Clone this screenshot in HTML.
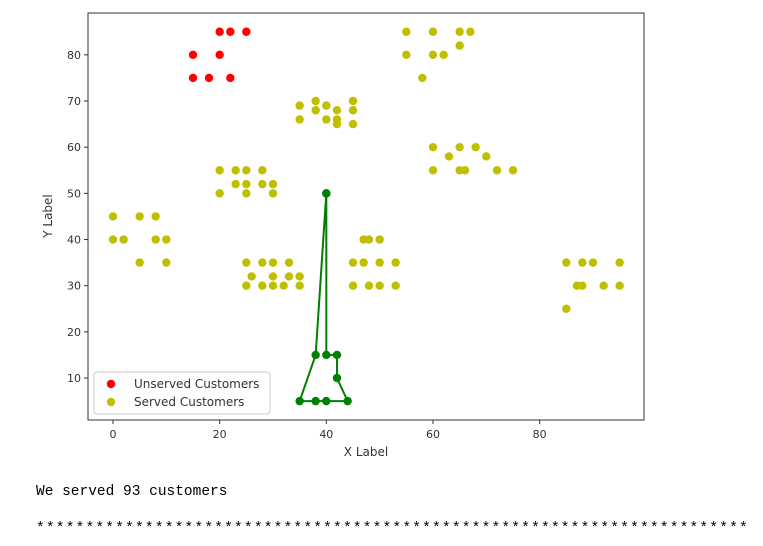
<!DOCTYPE html>
<html><head><meta charset="utf-8"><style>
body{margin:0;background:#fff;width:763px;height:546px;overflow:hidden;font-family:"DejaVu Sans","Liberation Sans",sans-serif}
#out{position:absolute;left:36px;top:484px;font-family:"Liberation Mono",monospace;font-size:14.5px;color:#000}
#stars{position:absolute;left:36px;top:521px;font-family:"Liberation Mono",monospace;font-size:14.5px;letter-spacing:1.2px;color:#000;white-space:nowrap;width:715px;overflow:hidden}
</style></head><body>
<svg id="chart" width="763" height="470" style="position:absolute;left:0;top:0"></svg>
<div id="out">We served 93 customers</div>
<div id="stars">************************************************************************</div>
<script>
const unservedX=[20,22,25,15,20,15,18,22];
const unservedY=[85,85,85,80,80,75,75,75];
const servedX=[35,35,38,38,40,40,42,42,42,45,45,45,20,23,25,28,23,25,28,30,20,25,30,55,60,65,67,65,55,60,62,58,60,65,68,63,70,60,65,66,72,75,0,5,8,0,2,8,10,5,10,25,28,30,33,26,30,33,35,25,28,30,32,35,47,48,50,45,47,50,53,45,48,50,53,85,88,90,95,87,88,92,95,85];
const servedY=[69,66,70,68,69,66,68,65,66,70,68,65,55,55,55,55,52,52,52,52,50,50,50,85,85,85,85,82,80,80,80,75,60,60,60,58,58,55,55,55,55,55,45,45,45,40,40,40,40,35,35,35,35,35,35,32,32,32,32,30,30,30,30,30,40,40,40,35,35,35,35,30,30,30,30,35,35,35,35,30,30,30,30,25];
const routeX=[40,40,42,42,44,40,38,35,38,40];
const routeY=[50,15,15,10,5,5,5,5,15,50];
const xTicks=[0,20,40,60,80];
const yTicks=[10,20,30,40,50,60,70,80];
const NS='http://www.w3.org/2000/svg';
const svg=document.getElementById('chart');
const L=88,R=644,T=13,B=420;
const sx=v=>113+v*5.333;
const sy=v=>424.2-v*4.617;
function mk(t,a){const e=document.createElementNS(NS,t);for(const k in a)e.setAttribute(k,a[k]);svg.appendChild(e);return e;}
const frame=mk('rect',{x:L,y:T,width:R-L,height:B-T,fill:'#fff',stroke:'#333','stroke-width':1});


xTicks.forEach(v=>{
  const l=mk('line',{x1:sx(v),x2:sx(v),y1:B,y2:B+4,stroke:'#333'});
  
  
  const t=mk('text',{x:sx(v),y:B+18,'text-anchor':'middle','font-size':11,fill:'#333'});t.textContent=v;
  
  
});
yTicks.forEach(v=>{
  const l=mk('line',{x1:L-4,x2:L,y1:sy(v),y2:sy(v),stroke:'#333'});
  
  
  const t=mk('text',{x:L-7,y:sy(v)+4,'text-anchor':'end','font-size':11,fill:'#333'});t.textContent=v;
  
  
});
const xl=mk('text',{x:366,y:456,'text-anchor':'middle','font-size':12,fill:'#333'});xl.textContent='X Label';


const yl=mk('text',{x:52,y:216,'text-anchor':'middle','font-size':12,fill:'#333',transform:'rotate(-90 52 216)'});yl.textContent='Y Label';


unservedX.forEach((x,i)=>{
  const c=mk('circle',{cx:sx(x),cy:sy(unservedY[i]),r:4.2,fill:'#ff0000'});
  
  
});
servedX.forEach((x,i)=>{
  const c=mk('circle',{cx:sx(x),cy:sy(servedY[i]),r:4.2,fill:'#bfbf00'});
  
  
});
const pl=mk('polyline',{points:routeX.map((x,i)=>sx(x)+','+sy(routeY[i])).join(' '),fill:'none',stroke:'#008000','stroke-width':2});


routeX.forEach((x,i)=>{
  const c=mk('circle',{cx:sx(x),cy:sy(routeY[i]),r:4.2,fill:'#008000'});
  
  
});
const lg=mk('rect',{x:94,y:372,width:176,height:42,rx:3,fill:'#fff',stroke:'#ccc'});


[['#ff0000','Unserved Customers',384],['#bfbf00','Served Customers',402]].forEach(([c,s,y])=>{
  const d=mk('circle',{cx:111,cy:y,r:4.2,fill:c});
  
  
  const t=mk('text',{x:134,y:y+4,'font-size':12,fill:'#333'});t.textContent=s;
  
  
});
</script>
</body></html>
